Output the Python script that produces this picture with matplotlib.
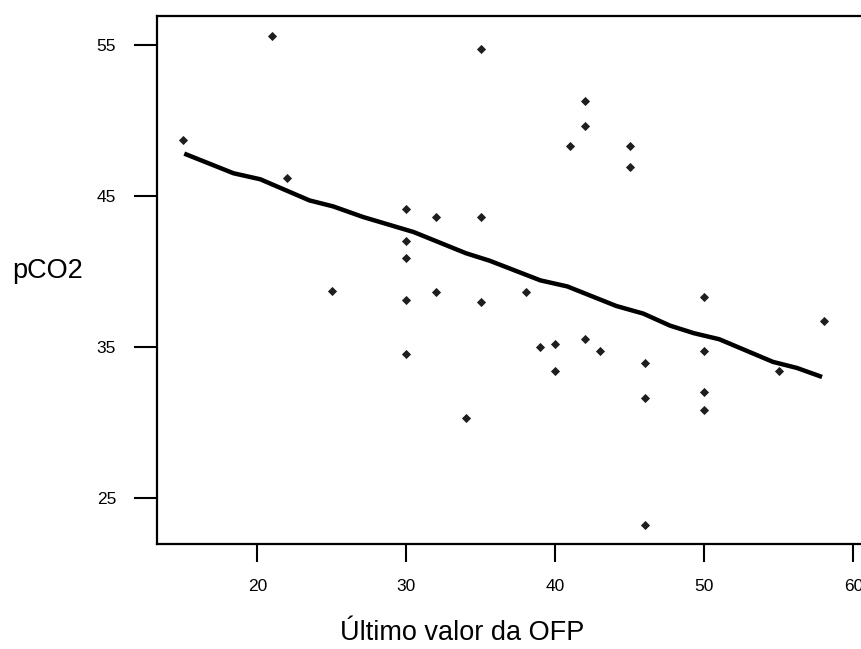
import matplotlib
matplotlib.use("Agg")
import matplotlib.pyplot as plt

plt.rcParams['font.family'] = ['Liberation Sans', 'DejaVu Sans']

# scatter data: Último valor da OFP vs pCO2
ofp = [15, 21, 22, 25, 30, 30, 30, 30, 30, 32, 32, 34, 35, 35, 35, 38, 39,
       40, 40, 41, 42, 42, 42, 43, 45, 45, 46, 46, 46, 50, 50, 50, 50, 55, 58]
pco2 = [48.7, 55.6, 46.2, 38.7, 44.1, 42.0, 40.9, 38.1, 34.5, 43.6, 38.6,
        30.3, 54.7, 43.6, 38.0, 38.6, 35.0, 35.2, 33.4, 48.3, 51.3, 49.6,
        35.5, 34.7, 48.3, 46.9, 33.9, 31.6, 23.2, 38.3, 34.7, 32.0, 30.8,
        33.4, 36.7]

# smooth fit line
fit_x = [15.1, 18.4, 20.2, 23.5, 25.1, 27.1, 30.5, 34.0, 35.6, 39.0, 40.8,
         44.1, 45.9, 47.7, 49.3, 51.0, 54.6, 56.2, 57.9]
fit_y = [47.8, 46.5, 46.1, 44.7, 44.3, 43.6, 42.6, 41.2, 40.7, 39.4, 39.0,
         37.7, 37.2, 36.4, 35.9, 35.5, 34.0, 33.6, 33.0]

xticks = [20, 30, 40, 50, 60]
yticks = [25, 35, 45, 55]

W, H = 862, 649
fig = plt.figure(figsize=(W / 100, H / 100), dpi=100)
left, right, top, bottom = 157, 862, 16, 544
ax = fig.add_axes([left / W, 1 - bottom / H, (right - left) / W, (bottom - top) / H])

ax.plot(fit_x, fit_y, color='black', lw=3.2, solid_capstyle='butt', zorder=2)
ax.plot(ofp, pco2, linestyle='none', marker='D', ms=4.3, color='#1e1e1e',
        markeredgewidth=0.6, zorder=3)

ax.set_xlim(13.27, 60.58)
ax.set_ylim(21.93, 56.92)
ax.set_xticks(xticks)
ax.set_yticks(yticks)
ax.set_xticklabels([str(t) for t in xticks])
ax.set_yticklabels([str(t) for t in yticks])

for s in ['left', 'bottom', 'top']:
    ax.spines[s].set_linewidth(1.6)
ax.spines['right'].set_visible(False)

ax.tick_params(axis='x', direction='out', length=13, width=1.5, pad=12,
               labelsize=12.5)
ax.tick_params(axis='y', direction='out', length=16.5, width=1.5, pad=13,
               labelsize=12.5)

fig.text(462.5 / W, 1 - 640 / H, 'Último valor da OFP', ha='center',
         va='baseline', fontsize=19.5)
fig.text(47.5 / W, 1 - 271 / H, 'pCO2', ha='center', va='center',
         fontsize=19.5)

fig.savefig('out.png', dpi=100, facecolor='white')
